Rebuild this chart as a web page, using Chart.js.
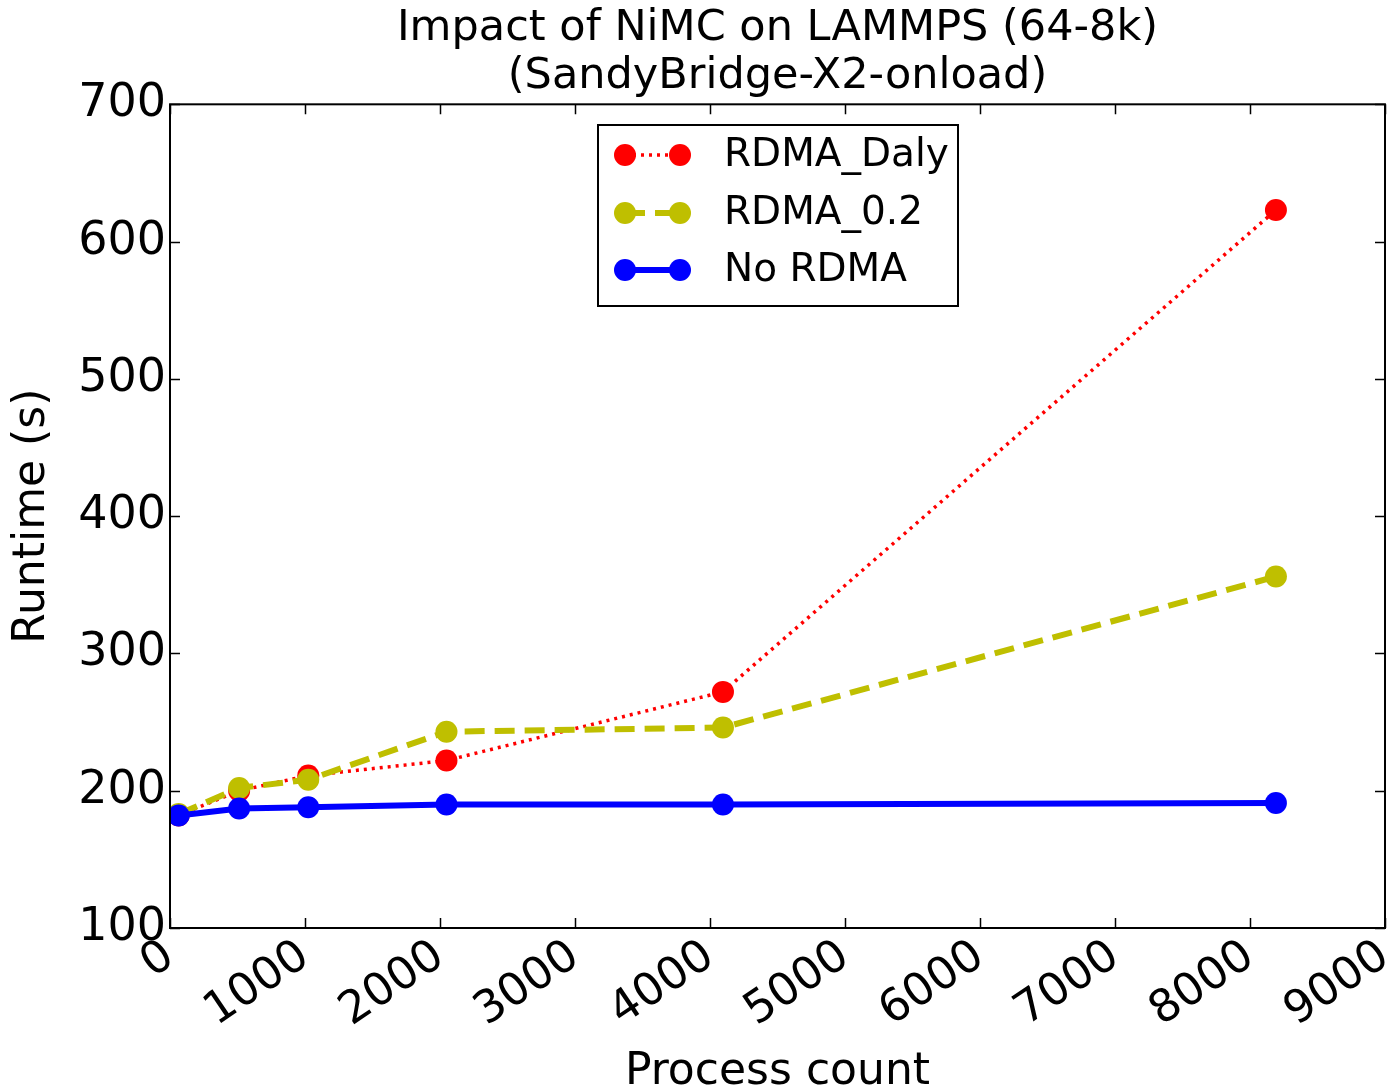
<!DOCTYPE html>
<html>
<head>
<meta charset="utf-8">
<script src="https://cdn.jsdelivr.net/npm/chart.js@4.4.1/dist/chart.umd.min.js"></script>
<style>
html,body{margin:0;padding:0;background:#fff;}
#wrap{width:1387px;height:1092px;position:relative;}
</style>
</head>
<body>
<div id="wrap"><canvas id="c"></canvas></div>
<script>
const processCounts = [64, 512, 1024, 2048, 4096, 8192];
const rdmaDaly = [182, 200, 211, 222, 272, 623];
const rdma02 = [183, 202, 208, 243, 246, 356];
const noRdma = [182, 187, 188, 190, 190, 191];
const seriesNames = ['RDMA_Daly', 'RDMA_0.2', 'No RDMA'];
const titleLines = ['Impact of NiMC on LAMMPS (64-8k)', '(SandyBridge-X2-onload)'];
const xLabel = 'Process count';
const yLabel = 'Runtime (s)';

const FONT = "'DejaVu Sans', sans-serif";
const RED = '#ff0000', YEL = '#bfbf00', BLU = '#0000ff';

function pts(arr){ return processCounts.map((x,i)=>({x:x, y:arr[i]})); }

const legendItems = [
  {label: seriesNames[0], color: RED, dash: [3,5], width: 3.5},
  {label: seriesNames[1], color: YEL, dash: [20,10], width: 6},
  {label: seriesNames[2], color: BLU, dash: [], width: 6}
];

const framePlugin = {
  id: 'frame',
  afterDraw(chart){
    const ctx = chart.ctx, a = chart.chartArea;
    const xs = chart.scales.x, ys = chart.scales.y;
    ctx.save();
    ctx.strokeStyle = '#000';
    ctx.lineWidth = 1.5;
    const tl = 10;
    xs.ticks.forEach(t=>{
      const p = Math.round(xs.getPixelForValue(t.value))+0.5;
      ctx.beginPath();
      ctx.moveTo(p, a.bottom); ctx.lineTo(p, a.bottom - tl);
      ctx.moveTo(p, a.top); ctx.lineTo(p, a.top + tl);
      ctx.stroke();
    });
    ys.ticks.forEach(t=>{
      const p = Math.round(ys.getPixelForValue(t.value))+0.5;
      ctx.beginPath();
      ctx.moveTo(a.left, p); ctx.lineTo(a.left + tl, p);
      ctx.moveTo(a.right, p); ctx.lineTo(a.right - tl, p);
      ctx.stroke();
    });
    ctx.lineWidth = 2;
    ctx.strokeRect(a.left, a.top, a.right - a.left, a.bottom - a.top);

    // legend
    const bx = 598, by = 125, bw = 360, bh = 181;
    ctx.fillStyle = '#fff';
    ctx.fillRect(bx, by, bw, bh);
    ctx.strokeStyle = '#000';
    ctx.lineWidth = 2;
    ctx.strokeRect(bx, by, bw, bh);
    const rows = [155, 213, 270];
    legendItems.forEach((it, i)=>{
      const y = rows[i];
      ctx.save();
      ctx.strokeStyle = it.color;
      ctx.lineWidth = it.width;
      ctx.setLineDash(it.dash);
      ctx.beginPath();
      ctx.moveTo(625, y); ctx.lineTo(680, y);
      ctx.stroke();
      ctx.restore();
      ctx.fillStyle = it.color;
      [625, 680].forEach(cx=>{
        ctx.beginPath(); ctx.arc(cx, y, 11, 0, Math.PI*2); ctx.fill();
      });
      ctx.fillStyle = '#000';
      ctx.font = '39px ' + FONT;
      ctx.textBaseline = 'middle';
      ctx.textAlign = 'left';
      ctx.fillText(it.label, 724, y + 1);
    });
    ctx.restore();
  }
};

function ds(label, arr, color, dash, width, order){
  return {
    label: label,
    data: pts(arr),
    borderColor: color,
    backgroundColor: color,
    borderWidth: width,
    borderDash: dash,
    pointRadius: 11,
    pointHoverRadius: 11,
    pointBorderWidth: 0,
    pointBackgroundColor: color,
    tension: 0,
    order: order
  };
}

new Chart(document.getElementById('c'), {
  type: 'line',
  data: {
    datasets: [
      ds(seriesNames[0], rdmaDaly, RED, [3,5], 3.5, 3),
      ds(seriesNames[1], rdma02, YEL, [20,10], 6, 2),
      ds(seriesNames[2], noRdma, BLU, [], 6, 1)
    ]
  },
  options: {
    responsive: true,
    maintainAspectRatio: false,
    animation: false,
    devicePixelRatio: 1,
    layout: {autoPadding: false, padding: {top: 0, right: 2, left: 0, bottom: 0}},
    plugins: {
      legend: {display: false},
      tooltip: {enabled: false},
      title: {
        display: true,
        fullSize: false,
        text: titleLines,
        color: '#000',
        font: {family: FONT, size: 43, weight: 'normal', lineHeight: 1.12},
        padding: {top: 5, bottom: 3}
      }
    },
    scales: {
      x: {
        type: 'linear',
        min: 0, max: 9000,
        afterFit(s){ s.height = 164; s.paddingLeft = 0; s.paddingRight = 0; },
        ticks: {
          stepSize: 1000,
          color: '#000',
          font: {family: FONT, size: 45},
          minRotation: 34, maxRotation: 34,
          padding: 2,
          autoSkip: false,
          callback: v => String(v)
        },
        grid: {display: false, drawTicks: false},
        border: {display: false},
        title: {display: true, text: xLabel, color: '#000', font: {family: FONT, size: 44, lineHeight: 1.0}, padding: {top: 0, bottom: -3}}
      },
      y: {
        min: 100, max: 700,
        afterFit(s){ s.width = 170; s.paddingTop = 0; s.paddingBottom = 0; },
        ticks: {
          stepSize: 100,
          color: '#000',
          font: {family: FONT, size: 46},
          padding: 4
        },
        grid: {display: false, drawTicks: false},
        border: {display: false},
        title: {display: true, text: yLabel, color: '#000', font: {family: FONT, size: 44, lineHeight: 1.2}, padding: {top: 6, bottom: 0}}
      }
    }
  },
  plugins: [framePlugin]
});
</script>
</body>
</html>
